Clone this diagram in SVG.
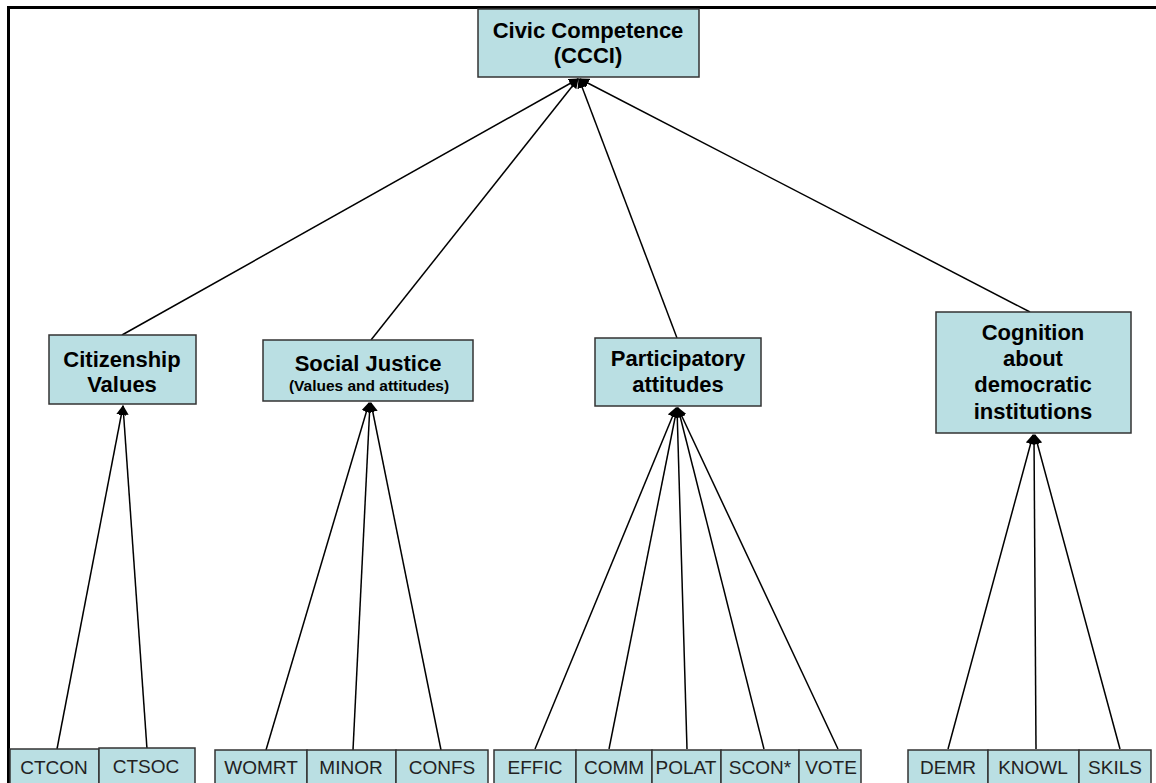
<svg xmlns="http://www.w3.org/2000/svg" width="1156" height="783" viewBox="0 0 1156 783">
  <style>
    .box { fill: #BADFE3; stroke: #333333; stroke-width: 1.5; }
    .head { font-family: "Liberation Sans", Arial, sans-serif; font-weight: bold; font-size: 22px; fill: #000; text-anchor: middle; }
    .sub { font-family: "Liberation Sans", Arial, sans-serif; font-weight: bold; font-size: 15.5px; fill: #000; text-anchor: middle; }
    .leaf { font-family: "Liberation Sans", Arial, sans-serif; font-size: 19px; fill: #222; text-anchor: middle; }
    .edge { stroke: #000; stroke-width: 1.5; fill: none; marker-end: url(#arrow); }
  </style>
  <defs>
    <marker id="arrow" viewBox="0 0 10 10" refX="9" refY="5" markerWidth="10" markerHeight="10" markerUnits="userSpaceOnUse" orient="auto">
      <path d="M0,0 L10,5 L0,10 Z" fill="#000"/>
    </marker>
  </defs>

  <rect x="0" y="0" width="1156" height="783" fill="#ffffff"/>
  <!-- frame -->
  <line x1="8" y1="7.5" x2="1156" y2="7.5" stroke="#000" stroke-width="3"/>
  <line x1="8.5" y1="6" x2="8.5" y2="783" stroke="#000" stroke-width="3"/>

  <g id="connectors">
    <line class="edge" x1="122" y1="335" x2="578" y2="79"/>
    <line class="edge" x1="371" y1="340" x2="578" y2="79"/>
    <line class="edge" x1="677" y1="338" x2="579" y2="79"/>
    <line class="edge" x1="1030" y1="312" x2="580" y2="79"/>

    <line class="edge" x1="57" y1="749" x2="123" y2="406"/>
    <line class="edge" x1="147" y1="749" x2="123" y2="406"/>

    <line class="edge" x1="266" y1="750" x2="369" y2="403"/>
    <line class="edge" x1="353" y1="750" x2="370" y2="403"/>
    <line class="edge" x1="441" y1="750" x2="371" y2="403"/>

    <line class="edge" x1="535" y1="749" x2="676" y2="408"/>
    <line class="edge" x1="609" y1="749" x2="677" y2="408"/>
    <line class="edge" x1="687" y1="749" x2="677" y2="408"/>
    <line class="edge" x1="764" y1="749" x2="678" y2="408"/>
    <line class="edge" x1="838" y1="749" x2="678" y2="408"/>

    <line class="edge" x1="948" y1="749" x2="1033" y2="435"/>
    <line class="edge" x1="1036" y1="749" x2="1034" y2="435"/>
    <line class="edge" x1="1120" y1="749" x2="1035" y2="435"/>
  </g>

  <g id="ccci">
    <rect class="box" x="478" y="9" width="221" height="68"/>
    <text class="head" x="588" y="38">Civic Competence</text>
    <text class="head" x="588" y="63">(CCCI)</text>
  </g>

  <g id="citizenship-values">
    <rect class="box" x="49" y="335" width="147" height="69"/>
    <text class="head" x="122" y="367">Citizenship</text>
    <text class="head" x="122" y="392">Values</text>
  </g>

  <g id="social-justice">
    <rect class="box" x="263" y="340" width="210" height="61"/>
    <text class="head" x="368" y="371">Social Justice</text>
    <text class="sub" x="369" y="391">(Values and attitudes)</text>
  </g>

  <g id="participatory-attitudes">
    <rect class="box" x="595" y="338" width="166" height="68"/>
    <text class="head" x="678" y="366">Participatory</text>
    <text class="head" x="678" y="392">attitudes</text>
  </g>

  <g id="cognition">
    <rect class="box" x="936" y="312" width="195" height="121"/>
    <text class="head" x="1033" y="340">Cognition</text>
    <text class="head" x="1033" y="366">about</text>
    <text class="head" x="1033" y="392">democratic</text>
    <text class="head" x="1033" y="419">institutions</text>
  </g>

  <g id="ctcon"><rect class="box" x="10" y="749" width="89" height="40"/><text class="leaf" x="54" y="774">CTCON</text></g>
  <g id="ctsoc"><rect class="box" x="99" y="748" width="96" height="40"/><text class="leaf" x="146" y="773">CTSOC</text></g>

  <g id="womrt"><rect class="box" x="215" y="750" width="92" height="40"/><text class="leaf" x="261" y="774">WOMRT</text></g>
  <g id="minor"><rect class="box" x="307" y="750" width="89" height="40"/><text class="leaf" x="351" y="774">MINOR</text></g>
  <g id="confs"><rect class="box" x="396" y="750" width="92" height="40"/><text class="leaf" x="442" y="774">CONFS</text></g>

  <g id="effic"><rect class="box" x="494" y="750" width="82" height="40"/><text class="leaf" x="535" y="774">EFFIC</text></g>
  <g id="comm"><rect class="box" x="576" y="750" width="76" height="40"/><text class="leaf" x="614" y="774">COMM</text></g>
  <g id="polat"><rect class="box" x="652" y="750" width="69" height="40"/><text class="leaf" x="686" y="774">POLAT</text></g>
  <g id="scon"><rect class="box" x="721" y="750" width="78" height="40"/><text class="leaf" x="760" y="774">SCON*</text></g>
  <g id="vote"><rect class="box" x="799" y="750" width="62" height="40"/><text class="leaf" x="831" y="774">VOTE</text></g>

  <g id="demr"><rect class="box" x="908" y="750" width="80" height="40"/><text class="leaf" x="948" y="774">DEMR</text></g>
  <g id="knowl"><rect class="box" x="988" y="750" width="91" height="40"/><text class="leaf" x="1033" y="774">KNOWL</text></g>
  <g id="skils"><rect class="box" x="1079" y="750" width="72" height="40"/><text class="leaf" x="1115" y="774">SKILS</text></g>
</svg>
